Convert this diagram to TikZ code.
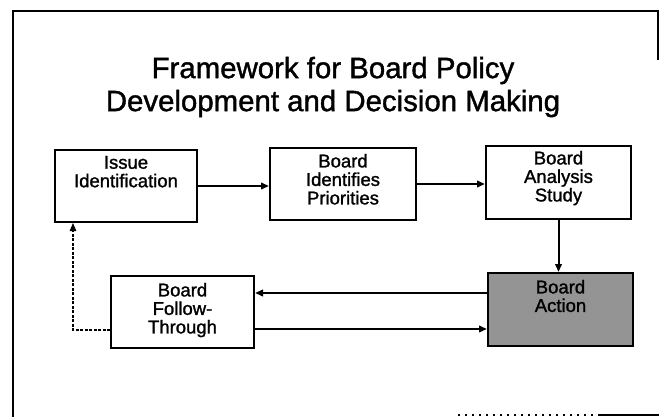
\documentclass[tikz,border=0pt]{standalone}
\usepackage{fontspec}
\setmainfont[RawFeature={embolden=1.3}]{Liberation Sans}
\usetikzlibrary{arrows.meta,calc}

\definecolor{ink}{rgb}{0,0,0}
\definecolor{shade}{gray}{0.58}

% top-aligned, centred lines inside a box of fixed size
\newcommand{\boxlines}[4]{\parbox[c][#1][t]{#2}{\centering\vspace*{#3}#4\par}}

\begin{document}
\begin{tikzpicture}[x=1pt,y=-1pt,
  box/.style={draw=black, line width=2pt, fill=white, text=ink, inner sep=0pt, anchor=north west,
              font=\fontsize{18.5}{18.5}\selectfont},
  actionbox/.style={box, fill=shade, text=ink},
  arr/.style={line width=2pt, -{Triangle[length=8pt,width=6.5pt]}},
  dashline/.style={line width=1.1pt, dash pattern=on 3pt off 1.5pt, -{Triangle[length=8pt,width=6.5pt]}},
  frame/.style={line width=2.4pt}
]
\useasboundingbox (0,0) rectangle (659,417);

% page frame
\draw[frame] (13,417) -- (13,11) -- (658,11) -- (658,60);
\draw[frame] (600,415) -- (659,415);
\draw[line width=1.2pt, dash pattern=on 2pt off 5pt] (458,415) -- (600,415);

% title
\node[align=center, text=ink, font=\fontsize{29.4}{33}\selectfont] (title) at (333,87)
  {Framework for Board Policy\\Development and Decision Making};

% boxes
\node[box] (issue) at (54,149)
  {\boxlines{72pt}{142pt}{6pt}{Issue\\Identification}};
\node[box] (prio) at (269,147)
  {\boxlines{72pt}{146pt}{6pt}{Board\\Identifies\\Priorities}};
\node[box] (anal) at (485,145)
  {\boxlines{73pt}{145pt}{5pt}{Board\\Analysis\\Study}};
\node[actionbox] (action) at (487,272)
  {\boxlines{73pt}{145pt}{7pt}{Board\\Action}};
\node[box] (follow) at (110,275)
  {\boxlines{72pt}{143pt}{7pt}{Board\\Follow-\\Through}};

% connectors
\draw[arr] (issue.east) -- (issue.east -| prio.west);
\draw[arr] (prio.east) -- (prio.east -| anal.west);
\draw[arr] (anal.south) -- (anal.south |- action.north);

\path ([yshift=16.5pt]action.west) coordinate (a1)
      ([yshift=-19.5pt]action.west) coordinate (a2);
\draw[arr] (a1) -- (a1 -| follow.east);
\draw[arr] (a2 -| follow.east) -- (a2);

\coordinate (loop) at (73,330);
\draw[dashline] (follow.west |- loop) -- (loop) -- (issue.south -| loop);
\end{tikzpicture}
\end{document}
